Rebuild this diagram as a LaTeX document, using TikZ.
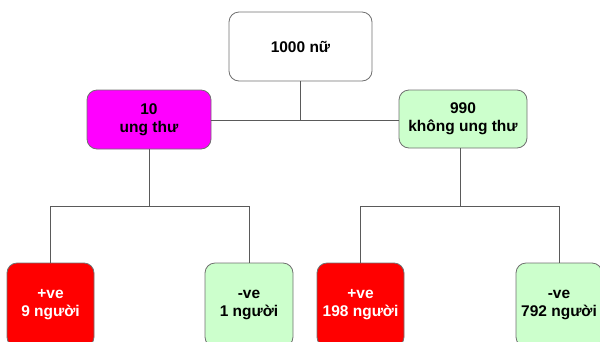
\documentclass[tikz,border=0pt]{standalone}
\usepackage{fontspec}
\setmainfont{Liberation Sans}
\definecolor{linegray}{HTML}{5A5A5A}
\definecolor{boxedge}{HTML}{707070}
\definecolor{palegreen}{HTML}{CCFFCC}
\definecolor{hotpink}{HTML}{FF00FF}
\definecolor{brightred}{HTML}{FF0000}
\tikzset{
  box/.style={draw=boxedge, line width=0.8pt, rounded corners=10pt, align=center,
    font=\fontsize{15.5}{18}\selectfont\bfseries, inner sep=0pt},
  wire/.style={draw=linegray, line width=0.9pt},
}
\begin{document}
\begin{tikzpicture}[x=1pt, y=-1pt]
\useasboundingbox (0,0) rectangle (600,341);

% root
\node[box, fill=white, minimum width=143pt, minimum height=69pt] (root) at (300.5,46.5) {1000 nữ};

% second level
\node[box, fill=hotpink, minimum width=124pt, minimum height=59pt] (cancer) at (149,119.5) {10\\ung thư};
\node[box, fill=palegreen, minimum width=128pt, minimum height=58pt] (healthy) at (463,119) {990\\không ung thư};

% test outcomes
\node[box, fill=brightred, text=white, minimum width=87pt, minimum height=84pt] (tp) at (50.5,305) {+ve\\9 người};
\node[box, fill=palegreen, minimum width=88pt, minimum height=84pt] (fn) at (249,305) {-ve\\1 người};
\node[box, fill=brightred, text=white, minimum width=87pt, minimum height=84pt] (fp) at (360.5,305) {+ve\\198 người};
\node[box, fill=palegreen, minimum width=86pt, minimum height=84pt] (tn) at (559,305) {-ve\\792 người};

% junction levels
\coordinate (mid) at (0,120.7);
\coordinate (low) at (0,206.7);

% connectors
\draw[wire] (cancer.east |- mid) -- (healthy.west |- mid);
\draw[wire] (root.south) -- (root.south |- mid);

\draw[wire] (cancer.south) -- (cancer.south |- low);
\draw[wire] (tp.north) -- (tp.north |- low) -- (fn.north |- low) -- (fn.north);

\coordinate (hdrop) at (460,148);
\draw[wire] (healthy.south -| hdrop) -- (hdrop |- low);
\draw[wire] (fp.north) -- (fp.north |- low) -- (tn.north |- low) -- (tn.north);
\end{tikzpicture}
\end{document}
